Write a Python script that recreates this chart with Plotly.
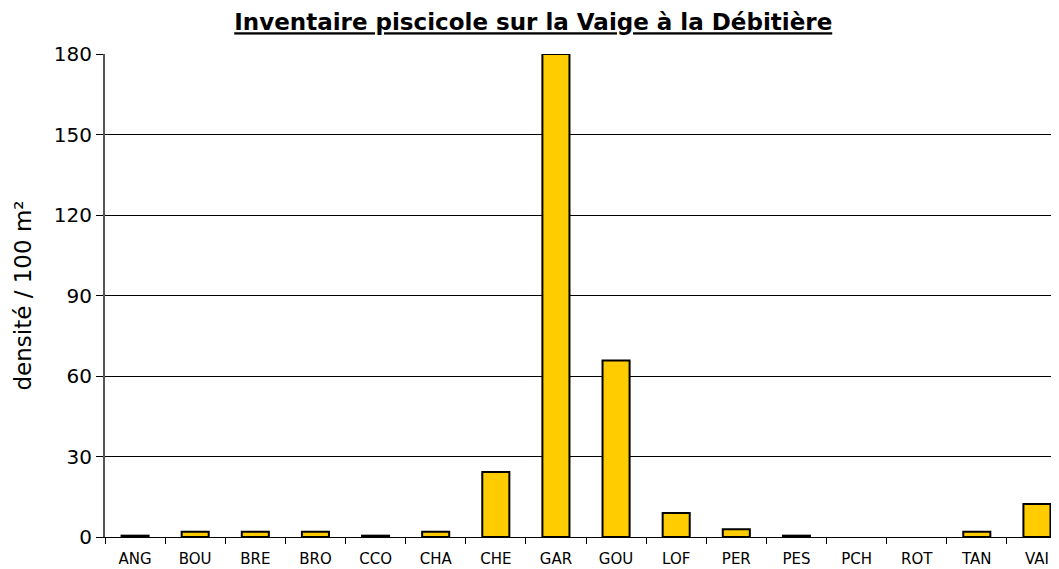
import plotly.graph_objects as go

species = ["ANG", "BOU", "BRE", "BRO", "CCO", "CHA", "CHE", "GAR",
           "GOU", "LOF", "PER", "PES", "PCH", "ROT", "TAN", "VAI"]
densite = [0.5, 2.0, 2.0, 2.0, 0.5, 2.0, 24.2, 180.0,
           65.8, 8.9, 2.9, 0.5, 0.0, 0.0, 2.0, 12.3]
y_ticks = [0, 30, 60, 90, 120, 150, 180]

outline = [2 if v > 0 else 0 for v in densite]

fig = go.Figure(go.Bar(
    x=species, y=densite,
    marker=dict(color="#FFCC00", line=dict(color="#000000", width=outline)),
    width=0.45,
))

font_family = "DejaVu Sans, Liberation Sans, sans-serif"

fig.update_layout(
    width=1059, height=569,
    paper_bgcolor="white", plot_bgcolor="white",
    margin=dict(l=97, r=0, t=46, b=40),
    showlegend=False,
    title=dict(text="<b><u>Inventaire piscicole sur la Vaige à la Débitière</u></b>",
               x=0.496, xanchor="center", xref="container", y=0.975, yanchor="middle",
               font=dict(family=font_family, size=23, color="black")),
    font=dict(family=font_family, color="black"),
)
fig.update_xaxes(
    type="category", showline=True, linecolor="black", linewidth=1,
    ticks="outside", tickson="boundaries", ticklen=6, tickcolor="black",
    ticklabelstandoff=8,
    tickfont=dict(size=15), showgrid=False,
)
fig.update_yaxes(
    range=[0, 180], tickvals=y_ticks, showline=True, linecolor="#555555", linewidth=2,
    ticks="outside", ticklen=7, tickcolor="black", ticklabelstandoff=0,
    showgrid=True, gridcolor="black", gridwidth=1,
    tickfont=dict(size=20), zeroline=False,
    title=dict(text="densité / 100 m²", font=dict(size=23), standoff=16),
)
fig.write_html("out.html")
